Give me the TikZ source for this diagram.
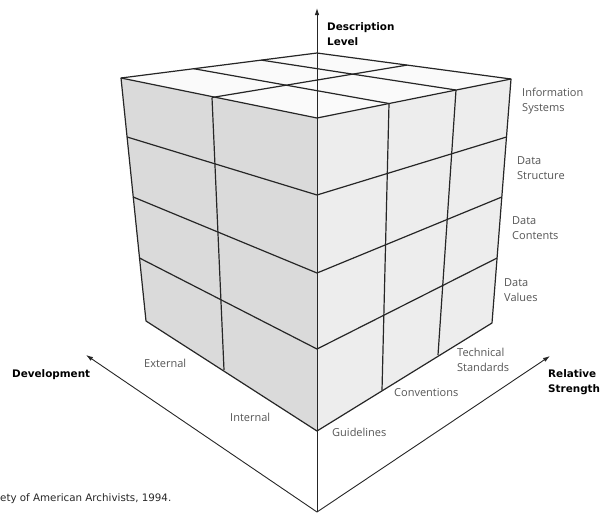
\documentclass[tikz,border=0pt]{standalone}
\usepackage{fontspec}
\setmainfont{Open Sans}
\newfontfamily\verdanalike{DejaVu Sans}
\usetikzlibrary{arrows.meta}
\definecolor{leftface}{HTML}{DADADA}
\definecolor{rightface}{HTML}{EDEDED}
\definecolor{topface}{HTML}{FAFAFA}
\definecolor{edgecol}{HTML}{262626}
\definecolor{labelcol}{HTML}{555555}
\tikzset{
  cubeline/.style={draw=edgecol, line width=1.2pt, line join=round},
  axisline/.style={draw=edgecol, line width=0.9pt, -{Latex[length=7pt,width=4.5pt]}},
  lbl/.style={inner sep=0pt, anchor=west, align=left, text=labelcol,
    font=\fontsize{11}{15}\selectfont},
  axtitle/.style={inner sep=0pt, anchor=west, align=left, text=black,
    font=\verdanalike\bfseries\fontsize{10.4}{15}\selectfont},
  caption/.style={inner sep=0pt, anchor=west, text=black!85,
    font=\verdanalike\fontsize{10.3}{12}\selectfont}
}
\begin{document}
\begin{tikzpicture}[x=1pt,y=-1pt]
\useasboundingbox (0,0) rectangle (601,512);
% cube corners
\coordinate (L) at (121,78);
\coordinate (N) at (317,118);
\coordinate (R) at (511,79);
\coordinate (B) at (317,53);
\coordinate (LB) at (146,321);
\coordinate (NB) at (317,431);
\coordinate (RB) at (492,323);
% left face grid points
\coordinate (n1) at (317,195);
\coordinate (n2) at (317,273);
\coordinate (n3) at (317,349);
\coordinate (l1) at (127.1,137);
\coordinate (l2) at (133.2,197);
\coordinate (l3) at (139.5,258);
\coordinate (lct) at (212,97.5);
\coordinate (lcb) at (224,370);
% right face grid points
\coordinate (r1) at (506.5,137);
\coordinate (r2) at (501.8,197);
\coordinate (r3) at (497.1,258);
\coordinate (rc1t) at (389,103.5);
\coordinate (rc1b) at (382,390.5);
\coordinate (rc2t) at (456,90);
\coordinate (rc2b) at (438,355);
% top face grid points
\coordinate (tb1) at (407,65.1);
\coordinate (tl1) at (193.7,68.7);
\coordinate (tl2) at (261.3,60.1);
% axes ends
\coordinate (O) at (317,512);
\coordinate (Zt) at (317,8);
\coordinate (Dt) at (86,355);
\coordinate (St) at (550,356);

% faces
\fill[leftface] (L) -- (N) -- (NB) -- (LB) -- cycle;
\fill[rightface] (N) -- (R) -- (RB) -- (NB) -- cycle;
\fill[topface] (L) -- (B) -- (R) -- (N) -- cycle;

% grid lines
\draw[cubeline] (l1) -- (n1) -- (r1);
\draw[cubeline] (l2) -- (n2) -- (r2);
\draw[cubeline] (l3) -- (n3) -- (r3);
\draw[cubeline] (lct) -- (lcb);
\draw[cubeline] (rc1t) -- (rc1b);
\draw[cubeline] (rc2t) -- (rc2b);
\draw[cubeline] (lct) -- (tb1);
\draw[cubeline] (rc1t) -- (tl1);
\draw[cubeline] (rc2t) -- (tl2);
% outlines
\draw[cubeline] (L) -- (B) -- (R) -- (RB) -- (NB) -- (LB) -- cycle;
\draw[cubeline] (L) -- (N) -- (R);

% axes
\draw[axisline] (O) -- (Zt);
\draw[axisline] (O) -- (Dt);
\draw[axisline] (O) -- (St);

% labels
\node[axtitle] (desc) at (327,34.5) {Description\\Level};
\node[axtitle] (dev) at (12,375) {Development};
\node[axtitle] (rel) at (548,382.5) {Relative\\Strength};

\node[lbl] (infosys) at (522,101.5) {Information\\Systems};
\node[lbl] (datastr) at (517,168.5) {Data\\Structure};
\node[lbl] (datacon) at (512,228.5) {Data\\Contents};
\node[lbl] (dataval) at (504,290.5) {Data\\Values};
\node[lbl] (techstd) at (457,359.5) {Technical\\Standards};
\node[lbl] (conv) at (394,393) {Conventions};
\node[lbl] (guide) at (332,432) {Guidelines};
\node[lbl] (ext) at (144,363) {External};
\node[lbl] (int) at (230,417) {Internal};

\node[caption] (cap) at (0,499) {ety of American Archivists, 1994.};
\end{tikzpicture}
\end{document}
